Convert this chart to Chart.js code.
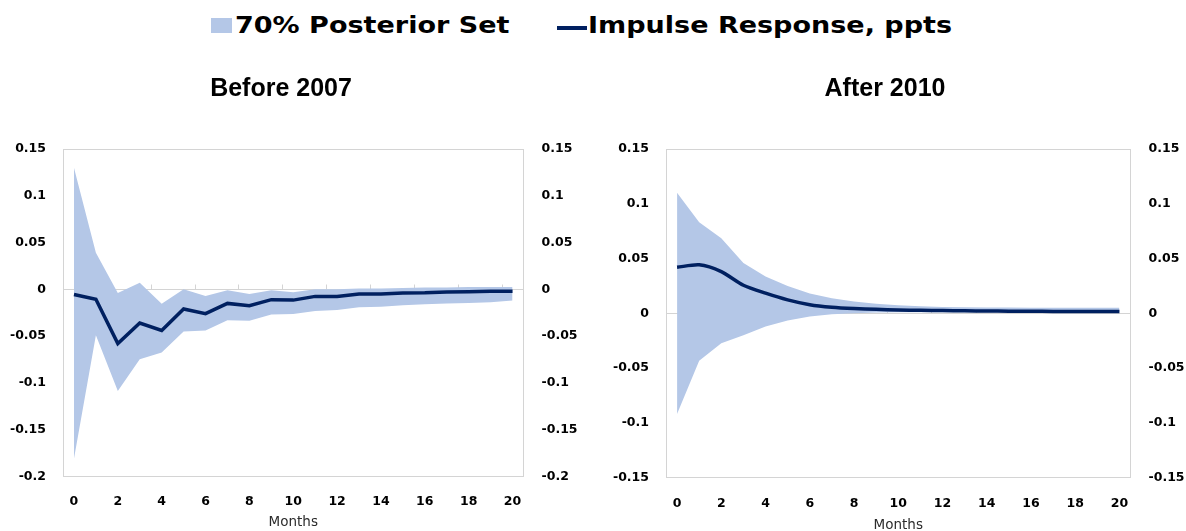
<!DOCTYPE html>
<html>
<head>
<meta charset="utf-8">
<script src="https://cdn.jsdelivr.net/npm/chart.js@4.4.1/dist/chart.umd.min.js"></script>
<style>
  body { margin: 0; width: 1186px; height: 531px; background: #fff; position: relative; overflow: hidden; }
  .key-box { position: absolute; left: 211px; top: 18px; width: 21px; height: 15px; background: #b4c7e7; }
  .key-line { position: absolute; left: 557px; top: 26px; width: 30px; height: 4px; background: #002060; }
  .key-text { position: absolute; top: 14px; font: bold 23px/23px 'DejaVu Sans'; color: #000;
              white-space: nowrap; transform: scaleX(1.175); transform-origin: 0 0; }
  canvas { position: absolute; top: 60px; }
  #before { left: -20px; }
  #after { left: 584px; }
</style>
</head>
<body>
<div class="key-box"></div>
<div class="key-text" style="left:235px">70% Posterior Set</div>
<div class="key-line"></div>
<div class="key-text" style="left:588px">Impulse Response, ppts</div>

<canvas id="before" width="602" height="471"></canvas>
<canvas id="after" width="602" height="471"></canvas>

<script>
const months = ['0', '1', '2', '3', '4', '5', '6', '7', '8', '9', '10',
                '11', '12', '13', '14', '15', '16', '17', '18', '19', '20'];

// Before 2007
const beforeLine  = [-0.0055, -0.0105, -0.058, -0.036, -0.044, -0.021, -0.026, -0.015, -0.0175, -0.011, -0.0115,
                     -0.0075, -0.0075, -0.005, -0.005, -0.0038, -0.0036, -0.0027, -0.0025, -0.002, -0.002];
const beforeUpper = [0.130, 0.039, -0.004, 0.007, -0.0155, 0.0, -0.007, -0.001, -0.005, -0.001, -0.003,
                     0.0, 0.0, 0.001, 0.001, 0.0015, 0.002, 0.002, 0.0025, 0.0025, 0.0025];
const beforeLower = [-0.181, -0.049, -0.1086, -0.0746, -0.0675, -0.045, -0.044, -0.033, -0.0336, -0.027, -0.0264,
                     -0.023, -0.022, -0.019, -0.0186, -0.017, -0.016, -0.015, -0.0146, -0.0139, -0.012];

// After 2010
const afterLine  = [0.042, 0.0442, 0.038, 0.0256, 0.0183, 0.0122, 0.0078, 0.0055, 0.0043, 0.0036, 0.003,
                    0.0027, 0.0024, 0.0022, 0.002, 0.0019, 0.0018, 0.0017, 0.0016, 0.0016, 0.0015];
const afterUpper = [0.11, 0.083, 0.0686, 0.046, 0.0335, 0.025, 0.018, 0.0137, 0.0107, 0.0087, 0.0073,
                    0.0064, 0.0058, 0.0055, 0.0053, 0.0052, 0.0051, 0.0051, 0.005, 0.005, 0.005];
const afterLower = [-0.092, -0.0433, -0.0273, -0.02, -0.012, -0.0067, -0.003, -0.001, 0.0, 0.0006, 0.0008,
                    0.0009, 0.001, 0.001, 0.001, 0.001, 0.001, 0.001, 0.001, 0.001, 0.001];

const bandColor = '#b4c7e7';
const lineColor = '#002060';
const frameColor = '#d4d4d4';
const tickFont = { family: 'DejaVu Sans', size: 12.5, weight: 'bold' };

// little marks pointing up from the zero line, every second month
const zeroTicks = {
    id: 'zeroTicks',
    beforeDatasetsDraw(chart) {
        const x = chart.scales.x;
        const y = chart.scales.y;
        const step = x.getPixelForValue(1) - x.getPixelForValue(0);
        const y0 = Math.round(y.getPixelForValue(0)) + 0.5;
        const ctx = chart.ctx;
        ctx.save();
        ctx.strokeStyle = frameColor;
        ctx.lineWidth = 1;
        ctx.beginPath();
        for (let k = 2; k < months.length; k += 2) {
            const px = Math.round(x.getPixelForValue(k) - step / 2) + 0.5;
            ctx.moveTo(px, y0);
            ctx.lineTo(px, y0 - 5);
        }
        ctx.stroke();
        ctx.restore();
    }
};

function fmt(v) {
    return String(Number(v.toFixed(2)));
}

function add_chart(id, title, line, upper, lower, yMin, yMax, lay) {
    const near = (a, b) => Math.abs(a - b) < 1e-9;
    const data = {
        labels: months,
        datasets: [{
            label: 'Impulse Response, ppts',
            data: line,
            borderColor: lineColor,
            borderWidth: 3.5,
            pointRadius: 0,
            tension: lay.tension,
            fill: false
        }, {
            label: 'upper',
            data: upper,
            borderWidth: 0,
            pointRadius: 0,
            fill: false
        }, {
            label: '70% Posterior Set',
            data: lower,
            borderWidth: 0,
            pointRadius: 0,
            backgroundColor: bandColor,
            fill: '-1'
        }]
    };
    const config = {
        type: 'line',
        data: data,
        plugins: [zeroTicks],
        options: {
            responsive: false,
            animation: false,
            layout: { padding: 0 },
            plugins: {
                legend: { display: false },
                tooltip: { enabled: false },
                title: {
                    display: true,
                    text: title,
                    color: '#000',
                    font: { family: 'Liberation Sans', size: 25, weight: 'bold' },
                    padding: { top: 14, bottom: 45 }
                }
            },
            scales: {
                x: {
                    type: 'category',
                    offset: true,
                    grid: { display: false },
                    border: { display: true, color: frameColor },
                    ticks: {
                        autoSkip: false,
                        maxRotation: 0,
                        padding: lay.xPad,
                        color: '#000',
                        font: tickFont,
                        callback: (v, i) => (i % 2 === 0 ? months[i] : '')
                    },
                    title: {
                        display: true,
                        text: 'Months',
                        color: '#2b2b2b',
                        font: { family: 'DejaVu Sans', size: 13.5, lineHeight: 1 },
                        padding: { top: 0, bottom: lay.monthsPad }
                    },
                    afterFit: s => { s.height = lay.xHeight; }
                },
                y: {
                    position: 'left',
                    min: yMin,
                    max: yMax,
                    grid: {
                        drawTicks: false,
                        color: c => (near(c.tick.value, 0) || near(c.tick.value, yMin) || near(c.tick.value, yMax)) ? frameColor : 'rgba(0,0,0,0)'
                    },
                    border: { display: true, color: frameColor },
                    ticks: { stepSize: 0.05, padding: 17, color: '#000', font: tickFont, callback: fmt },
                    afterFit: s => { s.width = lay.yWidth; }
                },
                y2: {
                    position: 'right',
                    min: yMin,
                    max: yMax,
                    grid: { display: false, drawTicks: false },
                    border: { display: true, color: frameColor },
                    ticks: { stepSize: 0.05, padding: 18, color: '#000', font: tickFont, callback: fmt },
                    afterFit: s => { s.width = lay.y2Width; }
                }
            }
        }
    };
    const ctx = document.getElementById(id).getContext('2d');
    return new Chart(ctx, config);
}

add_chart('before', 'Before 2007', beforeLine, beforeUpper, beforeLower, -0.2, 0.15,
    { yWidth: 83, y2Width: 58.5, xHeight: 54.5, xPad: 9.5, monthsPad: 1.5, tension: 0 });
add_chart('after', 'After 2010', afterLine, afterUpper, afterLower, -0.15, 0.15,
    { yWidth: 82, y2Width: 55.5, xHeight: 53.5, xPad: 10.5, monthsPad: -1.5, tension: 0.25 });
</script>
</body>
</html>
